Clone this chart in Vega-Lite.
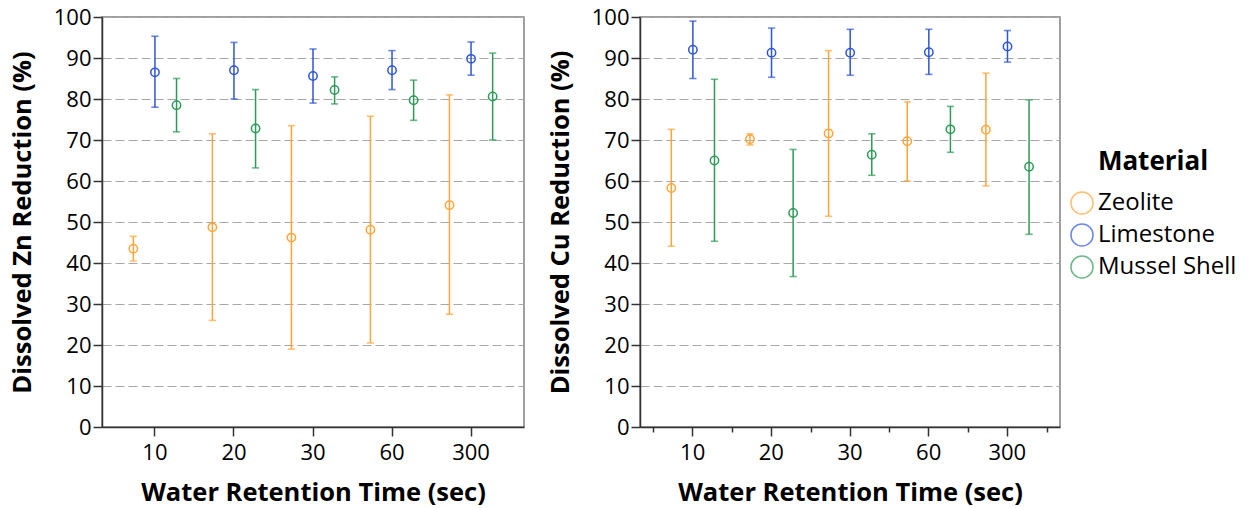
{
  "$schema": "https://vega.github.io/schema/vega-lite/v6.json",
  "padding": {"left": 9, "top": 5, "right": 5, "bottom": 2},
  "background": "white",
  "data": {"values": [
    {"metal": "Zn", "time": "10", "material": "Zeolite", "v": 43.5, "lo": 40.5, "hi": 46.5},
    {"metal": "Zn", "time": "10", "material": "Limestone", "v": 86.5, "lo": 78.0, "hi": 95.3},
    {"metal": "Zn", "time": "10", "material": "Mussel Shell", "v": 78.5, "lo": 72.0, "hi": 85.0},
    {"metal": "Zn", "time": "20", "material": "Zeolite", "v": 48.7, "lo": 26.0, "hi": 71.5},
    {"metal": "Zn", "time": "20", "material": "Limestone", "v": 87.0, "lo": 80.0, "hi": 93.8},
    {"metal": "Zn", "time": "20", "material": "Mussel Shell", "v": 72.8, "lo": 63.2, "hi": 82.3},
    {"metal": "Zn", "time": "30", "material": "Zeolite", "v": 46.2, "lo": 19.0, "hi": 73.5},
    {"metal": "Zn", "time": "30", "material": "Limestone", "v": 85.6, "lo": 79.0, "hi": 92.2},
    {"metal": "Zn", "time": "30", "material": "Mussel Shell", "v": 82.2, "lo": 78.8, "hi": 85.4},
    {"metal": "Zn", "time": "60", "material": "Zeolite", "v": 48.1, "lo": 20.5, "hi": 75.8},
    {"metal": "Zn", "time": "60", "material": "Limestone", "v": 87.0, "lo": 82.3, "hi": 91.8},
    {"metal": "Zn", "time": "60", "material": "Mussel Shell", "v": 79.7, "lo": 74.8, "hi": 84.6},
    {"metal": "Zn", "time": "300", "material": "Zeolite", "v": 54.1, "lo": 27.5, "hi": 81.0},
    {"metal": "Zn", "time": "300", "material": "Limestone", "v": 89.8, "lo": 85.8, "hi": 93.9},
    {"metal": "Zn", "time": "300", "material": "Mussel Shell", "v": 80.6, "lo": 70.0, "hi": 91.2},
    {"metal": "Cu", "time": "10", "material": "Zeolite", "v": 58.3, "lo": 44.1, "hi": 72.6},
    {"metal": "Cu", "time": "10", "material": "Limestone", "v": 92.0, "lo": 85.0, "hi": 99.0},
    {"metal": "Cu", "time": "10", "material": "Mussel Shell", "v": 65.0, "lo": 45.3, "hi": 84.8},
    {"metal": "Cu", "time": "20", "material": "Zeolite", "v": 70.2, "lo": 68.8, "hi": 71.5},
    {"metal": "Cu", "time": "20", "material": "Limestone", "v": 91.3, "lo": 85.3, "hi": 97.3},
    {"metal": "Cu", "time": "20", "material": "Mussel Shell", "v": 52.2, "lo": 36.7, "hi": 67.7},
    {"metal": "Cu", "time": "30", "material": "Zeolite", "v": 71.6, "lo": 51.4, "hi": 91.8},
    {"metal": "Cu", "time": "30", "material": "Limestone", "v": 91.3, "lo": 85.8, "hi": 97.0},
    {"metal": "Cu", "time": "30", "material": "Mussel Shell", "v": 66.4, "lo": 61.4, "hi": 71.5},
    {"metal": "Cu", "time": "60", "material": "Zeolite", "v": 69.7, "lo": 60.0, "hi": 79.3},
    {"metal": "Cu", "time": "60", "material": "Limestone", "v": 91.4, "lo": 86.0, "hi": 97.0},
    {"metal": "Cu", "time": "60", "material": "Mussel Shell", "v": 72.6, "lo": 67.0, "hi": 78.2},
    {"metal": "Cu", "time": "300", "material": "Zeolite", "v": 72.5, "lo": 58.8, "hi": 86.3},
    {"metal": "Cu", "time": "300", "material": "Limestone", "v": 92.8, "lo": 89.0, "hi": 96.7},
    {"metal": "Cu", "time": "300", "material": "Mussel Shell", "v": 63.5, "lo": 47.0, "hi": 79.8}
  ]},
  "spacing": 22,
  "hconcat": [
    {
      "width": 422, "height": 410,
      "transform": [{"filter": "datum.metal === 'Zn'"}],
      "encoding": {
        "x": {"field": "time", "type": "ordinal", "sort": ["10", "20", "30", "60", "300"],
              "scale": {"paddingInner": 0, "paddingOuter": 0.17},
              "axis": {"title": "Water Retention Time (sec)"}},
        "xOffset": {"field": "material", "type": "nominal", "sort": ["Zeolite", "Limestone", "Mussel Shell"], "scale": {"paddingOuter": 0.33}},
        "color": {"field": "material", "type": "nominal",
                  "scale": {"domain": ["Zeolite", "Limestone", "Mussel Shell"], "range": ["#FFA53A", "#2D56D6", "#2E9A57"]},
                  "legend": {"title": "Material", "orient": "none", "legendX": 968, "legendY": 132}}
      },
      "layer": [
        {"mark": {"type": "rule", "strokeWidth": 1.5},
         "encoding": {"y": {"field": "lo", "type": "quantitative", "scale": {"domain": [0, 100]}, "title": "Dissolved Zn Reduction (%)"}, "y2": {"field": "hi"}}},
        {"mark": {"type": "tick", "filled": false, "thickness": 0.4, "strokeWidth": 1.2, "size": 6},
         "encoding": {"y": {"field": "lo", "type": "quantitative", "title": "Dissolved Zn Reduction (%)"}}},
        {"mark": {"type": "tick", "filled": false, "thickness": 0.4, "strokeWidth": 1.2, "size": 6},
         "encoding": {"y": {"field": "hi", "type": "quantitative", "title": "Dissolved Zn Reduction (%)"}}},
        {"mark": {"type": "point", "shape": "circle", "filled": false, "size": 70, "strokeWidth": 1.5, "opacity": 1},
         "encoding": {"y": {"field": "v", "type": "quantitative", "title": "Dissolved Zn Reduction (%)"}}}
      ]
    },
    {
      "width": 420, "height": 410,
      "transform": [{"filter": "datum.metal === 'Cu'"}],
      "encoding": {
        "xOffset": {"field": "material", "type": "nominal", "sort": ["Zeolite", "Limestone", "Mussel Shell"], "scale": {"paddingOuter": 0.33}},
        "color": {"field": "material", "type": "nominal",
                  "scale": {"domain": ["Zeolite", "Limestone", "Mussel Shell"], "range": ["#FFA53A", "#2D56D6", "#2E9A57"]}}
      },
      "resolve": {"axis": {"x": "independent"}},
      "layer": [
        {"mark": {"type": "rule", "strokeWidth": 1.5},
         "encoding": {
           "x": {"field": "time", "type": "ordinal", "sort": ["10", "20", "30", "60", "300"],
                 "scale": {"paddingInner": 0, "paddingOuter": 0.17},
                 "axis": {"title": "Water Retention Time (sec)", "orient": "bottom"}},
           "y": {"field": "lo", "type": "quantitative", "scale": {"domain": [0, 100]}, "title": "Dissolved Cu Reduction (%)"}, "y2": {"field": "hi"}}},
        {"mark": {"type": "tick", "filled": false, "thickness": 0.4, "strokeWidth": 1.2, "size": 6},
         "encoding": {
           "x": {"field": "time", "type": "ordinal", "sort": ["10", "20", "30", "60", "300"],
                 "axis": {"orient": "bottom", "title": null, "labels": false, "domain": false, "tickBand": "extent", "tickSize": 5, "zindex": 1}},
           "y": {"field": "lo", "type": "quantitative", "title": "Dissolved Cu Reduction (%)"}}},
        {"mark": {"type": "tick", "filled": false, "thickness": 0.4, "strokeWidth": 1.2, "size": 6},
         "encoding": {
           "x": {"field": "time", "type": "ordinal", "sort": ["10", "20", "30", "60", "300"], "axis": null},
           "y": {"field": "hi", "type": "quantitative", "title": "Dissolved Cu Reduction (%)"}}},
        {"mark": {"type": "point", "shape": "circle", "filled": false, "size": 70, "strokeWidth": 1.5, "opacity": 1},
         "encoding": {
           "x": {"field": "time", "type": "ordinal", "sort": ["10", "20", "30", "60", "300"], "axis": null},
           "y": {"field": "v", "type": "quantitative", "title": "Dissolved Cu Reduction (%)"}}}
      ]
    }
  ],
  "config": {
    "view": {"stroke": "#808080", "strokeWidth": 1.5},
    "font": "Open Sans",
    "axis": {
      "labelFont": "Open Sans", "labelFontSize": 22, "labelColor": "#000",
      "titleFont": "Open Sans", "titleFontSize": 25.5, "titleFontWeight": "bold", "titleColor": "#000",
      "domainColor": "#333", "domainWidth": 1.5, "tickColor": "#333", "tickWidth": 1.5
    },
    "axisY": {"grid": true, "gridDash": [9, 4], "gridColor": "#a8a8a8", "gridWidth": 1.2, "tickSize": 9, "labelPadding": 2, "titlePadding": 18, "values": [0, 10, 20, 30, 40, 50, 60, 70, 80, 90, 100]},
    "axisX": {"grid": false, "labelAngle": 0, "tickSize": 9, "labelPadding": 6, "titlePadding": 17},
    "legend": {
      "titleFont": "Open Sans", "titleFontSize": 26, "titleFontWeight": "bold", "titleColor": "#000", "titleAnchor": "middle", "titlePadding": 16,
      "labelFont": "Open Sans", "labelFontSize": 24, "labelColor": "#000",
      "symbolType": "circle", "symbolSize": 490, "symbolStrokeWidth": 1.5, "symbolFillColor": "transparent",
      "rowPadding": 2, "labelOffset": 4
    }
  }
}
